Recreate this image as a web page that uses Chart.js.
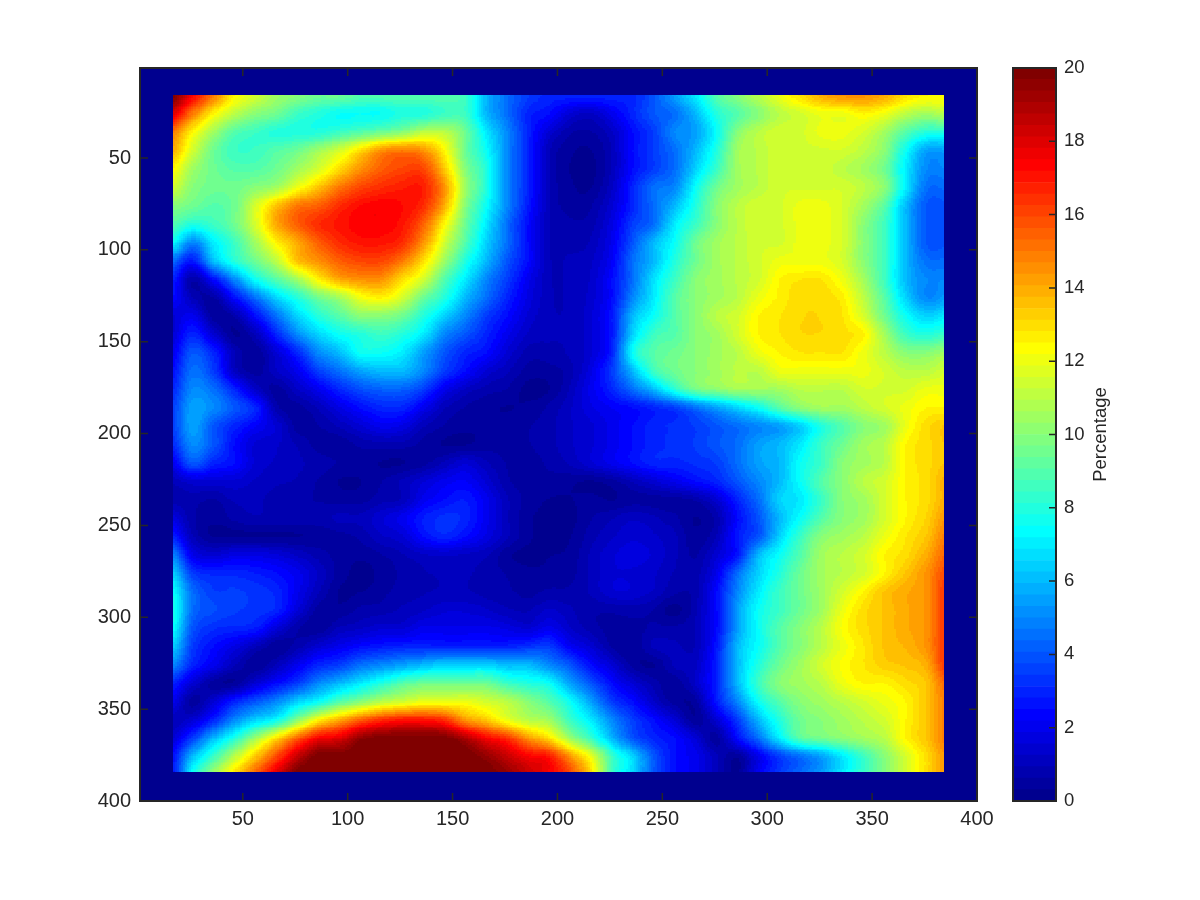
<!DOCTYPE html>
<html>
<head>
<meta charset="utf-8">
<title>Percentage map</title>
<script src="https://cdn.jsdelivr.net/npm/chart.js@4/dist/chart.umd.js"></script>
<style>
html, body { margin: 0; padding: 0; background: #fff; }
#wrap { position: relative; width: 1200px; height: 900px; overflow: hidden; }
canvas { position: absolute; top: 0; }
#heatCanvas { left: 0; }
#barCanvas { left: 1000px; }
</style>
</head>
<body>
<div id="wrap">
  <canvas id="heatCanvas" width="1000" height="900"></canvas>
  <canvas id="barCanvas" width="200" height="900"></canvas>
</div>
<script>
// cell centres, in axis units
const xCells = [16,26,36,46,56,66,76,86,96,106,116,126,136,146,156,166,176,186,196,206,216,226,236,246,256,266,276,286,296,306,316,326,336,346,356,366,376,386];
const yCells = [16,26,36,46,56,66,76,86,96,106,116,126,136,146,156,166,176,186,196,206,216,226,236,246,256,266,276,286,296,306,316,326,336,346,356,366,376,386];
const imageXStart = 17;
const imageYStart = 16;
const imageEnd = 384;

const xTicks = [50,100,150,200,250,300,350,400];
const yTicks = [50,100,150,200,250,300,350,400];
const barTicks = [0,2,4,6,8,10,12,14,16,18,20];
const barTitle = 'Percentage';

// percentage per cell
const cellRows = [
[20,17.5,15,12.5,11.5,10.5,10,9.5,9.5,9,9,9,9,9,8.5,6,4.5,3.5,3,3,3,3,3,4,5.5,7,9,10,11,12,13,14,14.5,14.5,14,13,12.5,12.5],
[18,15,12.5,11,10,9.5,8.5,8,7.5,7.5,7.5,8,8,8.5,8.5,6,4.5,3,2.5,1.5,1.2,2,3,4,4.5,6,8,9,10,11,11.5,12,12,12.5,12,11,10.5,11],
[15,12.5,10.5,9,8.5,8,8,8,8.5,9,9.5,10,11,11,9.5,7,5,3,1.5,0.7,0.6,1.2,2.5,3.5,5,5.5,7.5,10,11,11.5,11.5,12,12,11.5,10.5,9,8,8],
[14,11.5,9.5,8.5,8.5,9,9.5,10.5,11.5,13,14.5,15,14.5,12.5,9.5,7.5,5,3,1,0.4,0.3,1,2.5,3.5,4.5,6,8,10.5,11,11.5,11.5,11.5,11.5,11,10,7.5,5.5,5.5],
[12.5,10.5,9.5,9,9,9.5,10.5,11.5,13,14.5,15.5,16,16,13.5,10,8,5,3,1,0.3,0.2,1,2.5,3.5,4.5,6.5,8.5,10.5,11,11.5,11.5,11.5,11,10.5,9.5,7,5,5],
[11.5,10,9.5,9.5,10,10.5,12,13.5,15,16,16.5,16.8,16.8,14.5,10.5,8,5,3,1,0.4,0.3,1.2,3,4.5,5,7.5,9.5,10.5,11,11.5,11.5,11.5,11.5,11,10,7,4.5,4.5],
[10,9.5,9,9.5,11.5,13.5,15,15.5,16.5,17.2,17.4,17.2,16.5,14,10,7.5,5,2.8,1,0.5,0.6,1.5,3,4.5,6,8,10,11,11.5,11.5,12,12,11.5,10.5,9,6,4,4],
[9,8,8.5,9.5,11.5,14,15.5,16.5,17,17.4,17.4,17,15.5,12.5,9.5,7,4.5,2.5,1,0.7,0.8,1.8,3.5,4.5,7,8.5,10,11,11.5,11.5,12,12,11.5,10,8.5,6,4,4],
[7.5,5,7,8.5,10.5,12.5,14,15.5,16.5,17,17,16.5,14.5,11.5,9,6.5,4.5,2.5,1,0.8,1,2,4,6,7.5,9.5,10.5,11,11.5,11.5,12,12,11.5,10,8.5,6,4,4],
[4.5,2.8,6,8,9.5,11,13.5,14.5,15.5,16,16,15,13,10.5,8,6,4,2.5,1,1,1.2,2.2,4.5,6,8,9.5,10.5,11,11.5,12,12,12,11.5,10,8.5,6,4.5,4.5],
[3,0.7,2.5,5,7.5,9,10.5,12.5,14,14.5,14.5,13,11.5,9,7,5,3.5,2,1,1,1.3,2.5,4.5,6.8,8.5,10,10.5,11,11.5,12.5,12.8,12.8,12,10.5,8.5,6,5,5],
[2.5,1,0.6,2.5,4.5,6.5,8,9.5,10.5,12,12.5,11.5,9.5,8,6,4.5,3,1.8,1,1,1.4,2.5,5,7,9,10,10.5,11,12,12.6,13,13,12.6,11,9,6.5,5,5.5],
[1.5,2,0.5,0.7,2.5,4.5,6.5,8,9,10,10,9.5,8,6.5,5,3.5,2.5,1.5,1,1,1.5,2.8,6,7.5,9,10,11,11.5,12.5,12.8,13.1,13.1,12.8,11.5,9.5,7.5,6.5,7],
[1.5,3,1.5,0.3,1,3,5,6.5,7.5,8,8.5,8,7,5,4,3,2,1.2,1,1,1.5,2.8,6.5,8.5,9,10,10.5,11.5,12.5,12.8,13.1,13.1,12.9,12.5,10.5,8.5,8,8.5],
[2,4,3,1,0.4,1.5,3,5,6,7.5,7.5,7,5.5,4,3,2.5,1.5,0.8,0.8,1,1.5,3,7.5,9,9.5,10,10.5,11,12,12.5,12.8,12.8,12.8,12,11,10,10,10.5],
[2.5,4.5,3.5,1.2,0.5,1.2,2,3.5,4.5,5.5,6,6,5,3.5,2.5,1.5,1,0.5,0.5,0.8,1.8,3.5,6,8.5,9.5,10,10.5,11,11,12,12,12,12,12,11.5,11,11,11.5],
[3,5,4.5,3,1.3,0.5,1.2,2,3,3.8,4.2,4.2,3.5,2,1.2,0.8,0.6,0.2,0.3,1,2,3,4.5,6,8,9.5,10,10.5,10.5,10.5,11,11,11,11.5,11.5,11.5,12,12],
[3.5,5.5,5,4,3,0.8,0.5,1,1.8,2.5,3,3,2,1,0.6,0.4,0.3,0.4,0.7,1.2,1.8,2.2,2.5,3,3.5,4.5,5.5,6.5,7.5,9,10,10.5,10.5,11,11.5,12,12.5,12.5],
[3.5,5.5,4,3,2.2,1.5,0.5,0.6,1,1.5,2,1.8,1,0.6,0.4,0.4,0.5,0.6,0.8,1.2,1.5,2,2.5,3,3.2,3.5,4,4.5,5,5.5,6.5,8,9,10,10.5,12,13,13.5],
[3,5,4,2.5,1.5,1.3,0.9,0.5,0.4,0.7,0.8,0.8,0.5,0.3,0.3,0.5,0.5,0.6,0.8,1.2,1.5,2,2.5,3,3.2,3.5,4,4.5,5.5,6,7,8.5,9.5,10.5,11,12.5,13,13.5],
[2,4,3,2.5,1.5,1.2,1,0.8,0.6,0.5,0.3,0.3,0.5,1,1.5,1,0.6,0.5,0.7,1,1.5,2,2.5,3,3,3.2,3.5,4.5,5.5,6,7.5,8.5,10,10.5,11,12.5,13,13.5],
[1,1.5,1.5,1.5,1.2,1,0.9,0.6,0.3,0.3,0.6,1,1.5,2,2.2,1.5,0.7,0.5,0.5,0.4,0.3,0.5,1,1.5,2,2.5,3,4,5,6,7.5,9,10,11,11.5,12.5,13,14],
[0.8,0.8,0.6,1,1,0.8,0.7,0.6,0.5,0.5,0.8,1,2,2.5,2.8,2,1,0.5,0.3,0.3,0.4,0.3,0.5,0.5,0.5,0.7,1.5,3,4.5,6.5,7,8.5,10,10.5,11.5,12.5,13,14],
[1.8,0.7,0.4,0.7,0.9,0.8,0.8,0.8,1,1,1.5,2,2.8,3.2,3,2,1,0.4,0.2,0.2,0.6,0.9,1.2,1,0.7,0.3,0.8,2.5,4,6,7.5,9,10,10.5,11.5,12.5,13.2,14.5],
[3,1,0.3,0.3,0.3,0.3,0.3,0.4,0.5,0.7,1.2,1.5,2.5,3,2.5,1.8,1,0.4,0.2,0.3,0.8,1.2,1.5,1.3,1,0.4,1,2.8,4,6.5,8.5,10,10.5,11,12,12.8,13.5,15],
[5,2,1.5,1.8,1.8,1.6,1.2,0.8,0.5,0.4,0.6,0.9,1.2,1.3,1.2,1,0.4,0.2,0.3,0.4,1,1.5,1.7,1.5,1,0.6,1.5,2.8,6,7.5,9,10.5,11,11.5,12.5,13,14,15.5],
[6.5,3.5,3,3,2.8,2.5,2,1.2,0.5,0.2,0.4,0.7,0.9,1,1,0.8,0.6,0.4,0.4,0.5,1,1.5,1.5,1.3,0.9,0.8,2,4.5,6.5,8,9.5,10.5,11,11.5,12.5,13.5,14.5,16],
[7.5,4.5,3.5,3.5,3.3,3,2,1,0.3,0.3,0.5,0.8,0.9,1,1,0.8,0.7,0.5,0.7,0.7,1,1.5,1.5,1.2,0.7,0.8,2.5,5,7,8.5,9.5,10.5,11.5,12.5,13.5,14,14.5,16.5],
[8,4.5,3.8,3.5,3.3,3,1.6,0.5,0.4,0.7,0.8,1,1.2,1.5,1.5,1.3,1,0.9,1.3,1,0.7,0.7,0.8,0.6,0.2,0.9,2.5,5.5,7.5,8.5,9.5,10.5,12,13,13.5,14,14.5,16.5],
[7.5,4,3.2,3,2.8,1.6,0.7,0.4,1,1.2,1.5,1.5,2,2,2,2,1.8,1.5,2,1.3,0.8,0.5,0.5,0.7,0.7,1,2.5,5.5,7.5,9,10,11,12.3,13,13.5,14,14.5,16.5],
[6.5,3.5,2.5,1.8,1,0.4,0.8,1.5,2,2.5,2.8,3,3,3,3,3,3,3.3,3.5,2.2,1.5,0.6,0.4,1,1,1,2.8,6,7.5,9,10,11,12,12.8,13.5,13.8,14.5,16.5],
[5,3,2,1,0.4,1,2,3,3.5,4.5,5,5.5,6,6.5,6.5,6.5,6,6,5,4,2.5,1.5,0.5,0.3,1,1.2,3,6,8,9.5,10.5,11.5,12.3,12.8,13.3,13.5,14,16.5],
[3,1.5,0.5,0.4,1.5,2.5,3.5,5,6,7,8,9,9.5,9.5,9.5,9.5,8.5,8,7.5,5.5,4,2.5,1.5,0.8,0.4,1.3,3,6,8.5,10,10.5,11,12,12.5,12.5,13,13.5,15.5],
[2,0.5,1.5,3,4,5,6.5,7.5,9,10,11,11.5,12,12,12,11.5,11,10,9,7.5,5.5,3.5,2.5,1.3,0.5,0.5,2.8,5,7.5,9,10,10.5,11,11.5,12,12.5,13.5,15],
[1,1.5,3,5,6.5,7.5,10,12.5,14,15.5,16.5,17,17,16.5,14.5,13.5,12,11,10.5,8.5,7,5,3.5,2.5,1.5,0.4,1.5,3.5,6,8,9.5,10,10.5,11,11.5,12.5,13.5,15],
[1.5,3.5,6,8,10.5,13,15.5,17.5,18,19.5,20,20,20,20,19,17.5,16.5,14.5,13,10.5,8.5,6,4,3,2.5,1.5,0.5,2.5,4.5,7,9,9.5,10,10.5,11,12.5,13.5,15],
[2.5,6,8.5,11,13.5,16,18.5,20,20,20,20,20,20,20,20,19.5,18.5,17.5,17,14.5,12,8.5,6.5,4,2.5,2,1,0.4,2,3.5,4.5,5.5,7,8.5,10,11.5,13,14.5],
[2.5,7.5,10.5,13,15.5,18,20,20,20,20,20,20,20,20,20,20,19.5,18.5,17.5,16,13,8.5,6.5,4,2.5,2,1,0.3,2.2,3.5,4.5,5.5,7,8.5,10,11.5,13,14.5]
];

// jet colormap, 64 levels from 0 to 20
const levelCount = 64;
const levelMax = 20;

function jetLevel(i) {
    const t = (i + 1) / levelCount;
    const part = c => Math.round(255 * Math.min(1, Math.max(0, 1.5 - Math.abs(4 * t - c))));
    return [part(3), part(2), part(1)];
}
const jetTable = [];
for (let i = 0; i < levelCount; i++) jetTable.push(jetLevel(i));

function levelOf(v) {
    return Math.max(0, Math.min(levelCount - 1, Math.floor(v / levelMax * levelCount)));
}
function jetCss(i) {
    const c = jetTable[i];
    return 'rgb(' + c[0] + ',' + c[1] + ',' + c[2] + ')';
}

const axisColor = '#262626';
const textColor = '#262626';
const fontFamily = '"Liberation Sans", Arial, sans-serif';

// one point per cell
const cellPoints = [];
cellRows.forEach((row, j) => {
    row.forEach((v, i) => {
        cellPoints.push({ x: xCells[i], y: yCells[j], v: v });
    });
});

function catmull(a, b, c, d, t) {
    return b + 0.5 * t * (c - a + t * (2 * a - 5 * b + 4 * c - d + t * (3 * (b - c) + d - a)));
}
function cellAt(j, i) {
    const row = cellRows[Math.max(0, Math.min(cellRows.length - 1, j))];
    return row[Math.max(0, Math.min(row.length - 1, i))];
}
// value between the read cells, display only (like shading interp), the data stays as read
function shadeValue(xv, yv) {
    const fx = (xv - xCells[0]) / (xCells[1] - xCells[0]);
    const fy = (yv - yCells[0]) / (yCells[1] - yCells[0]);
    const i = Math.floor(fx), j = Math.floor(fy);
    const tx = fx - i, ty = fy - j;
    const col = [];
    for (let r = -1; r <= 2; r++) {
        col.push(catmull(cellAt(j + r, i - 1), cellAt(j + r, i), cellAt(j + r, i + 1), cellAt(j + r, i + 2), tx));
    }
    return catmull(col[0], col[1], col[2], col[3], ty);
}

// pixel box of the image inside the axes
function imageBox(chart) {
    const xs = chart.scales.x, ys = chart.scales.y;
    const left = Math.floor(xs.getPixelForValue(imageXStart));
    const top = Math.floor(ys.getPixelForValue(imageYStart));
    return {
        left, top,
        w: Math.ceil(xs.getPixelForValue(imageEnd)) - left,
        h: Math.ceil(ys.getPixelForValue(imageEnd)) - top
    };
}

// image area: background, cell clip and smooth shading
const imagePlugin = {
    id: 'imagePlugin',
    beforeDatasetsDraw(chart) {
        const a = chart.chartArea;
        chart.ctx.fillStyle = jetCss(0);
        chart.ctx.fillRect(a.left, a.top, a.width, a.height);
    },
    beforeDatasetDraw(chart) {
        const ctx = chart.ctx, b = imageBox(chart);
        ctx.save();
        ctx.beginPath();
        ctx.rect(b.left, b.top, b.w, b.h);
        ctx.clip();
    },
    afterDatasetDraw(chart) {
        const ctx = chart.ctx, xs = chart.scales.x, ys = chart.scales.y;
        ctx.restore();
        const b = imageBox(chart);
        const img = ctx.createImageData(b.w, b.h);
        for (let py = 0; py < b.h; py++) {
            const yv = Math.round(ys.getValueForPixel(b.top + py + 0.5));
            for (let px = 0; px < b.w; px++) {
                const xv = Math.round(xs.getValueForPixel(b.left + px + 0.5));
                const c = jetTable[levelOf(shadeValue(xv, yv))];
                const k = (py * b.w + px) * 4;
                img.data[k] = c[0];
                img.data[k + 1] = c[1];
                img.data[k + 2] = c[2];
                img.data[k + 3] = 255;
            }
        }
        ctx.putImageData(img, b.left, b.top);
    },
    afterDraw(chart) {
        const ctx = chart.ctx, a = chart.chartArea;
        const xs = chart.scales.x, ys = chart.scales.y;
        ctx.save();
        ctx.strokeStyle = axisColor;
        ctx.lineWidth = 1.5;
        ctx.beginPath();
        xTicks.forEach(v => {
            const p = xs.getPixelForValue(v);
            ctx.moveTo(p, a.bottom); ctx.lineTo(p, a.bottom - 8);
            ctx.moveTo(p, a.top); ctx.lineTo(p, a.top + 8);
        });
        yTicks.forEach(v => {
            const p = ys.getPixelForValue(v);
            ctx.moveTo(a.left, p); ctx.lineTo(a.left + 8, p);
            ctx.moveTo(a.right, p); ctx.lineTo(a.right - 8, p);
        });
        ctx.stroke();
        ctx.lineWidth = 2;
        ctx.strokeRect(a.left, a.top, a.width, a.height);
        ctx.restore();
    }
};

new Chart(document.getElementById('heatCanvas'), {
    type: 'scatter',
    data: {
        datasets: [{
            label: 'Percentage',
            data: cellPoints,
            pointStyle: 'rect',
            pointRadius: 15,
            pointBorderWidth: 0,
            pointBackgroundColor: ctx => jetCss(levelOf(ctx.raw.v))
        }]
    },
    options: {
        responsive: false,
        animation: false,
        events: [],
        layout: { padding: { top: 68, right: 23, left: 0, bottom: 0 } },
        plugins: { legend: { display: false }, tooltip: { enabled: false } },
        scales: {
            x: {
                type: 'linear', min: 1, max: 400,
                grid: { display: false, drawTicks: false }, border: { display: false },
                afterBuildTicks: s => { s.ticks = xTicks.map(v => ({ value: v })); },
                afterFit: s => { s.height = 99; },
                ticks: { font: { family: fontFamily, size: 20 }, color: textColor, padding: 6, maxRotation: 0, autoSkip: false }
            },
            y: {
                type: 'linear', min: 1, max: 400, reverse: true,
                grid: { display: false, drawTicks: false }, border: { display: false },
                afterBuildTicks: s => { s.ticks = yTicks.map(v => ({ value: v })); },
                afterFit: s => { s.width = 140; },
                ticks: { font: { family: fontFamily, size: 20 }, color: textColor, padding: 9, autoSkip: false }
            }
        }
    },
    plugins: [imagePlugin]
});

// colorbar: one stacked bar per colormap level
const barSets = jetTable.map((c, i) => ({
    data: [levelMax / levelCount],
    backgroundColor: jetCss(i),
    borderWidth: 0,
    barPercentage: 1,
    categoryPercentage: 1
}));

const barFramePlugin = {
    id: 'barFramePlugin',
    afterDraw(chart) {
        const ctx = chart.ctx, a = chart.chartArea, ys = chart.scales.y;
        ctx.save();
        ctx.strokeStyle = axisColor;
        ctx.lineWidth = 1.5;
        ctx.beginPath();
        barTicks.forEach(v => {
            const p = ys.getPixelForValue(v);
            ctx.moveTo(a.right, p); ctx.lineTo(a.right - 7, p);
        });
        ctx.stroke();
        ctx.lineWidth = 2;
        ctx.strokeRect(a.left, a.top, a.width, a.height);
        ctx.fillStyle = textColor;
        ctx.font = '18.5px ' + fontFamily;
        ctx.textAlign = 'center';
        ctx.textBaseline = 'middle';
        ctx.translate(a.right + 45, (a.top + a.bottom) / 2);
        ctx.rotate(-Math.PI / 2);
        ctx.fillText(barTitle, 0, 0);
        ctx.restore();
    }
};

new Chart(document.getElementById('barCanvas'), {
    type: 'bar',
    data: { labels: [''], datasets: barSets },
    options: {
        responsive: false,
        animation: false,
        events: [],
        layout: { padding: { top: 68, left: 13, right: 0, bottom: 99 } },
        plugins: { legend: { display: false }, tooltip: { enabled: false } },
        scales: {
            x: { stacked: true, display: false },
            y: {
                stacked: true, position: 'right', min: 0, max: 20,
                grid: { display: false, drawTicks: false }, border: { display: false },
                afterBuildTicks: s => { s.ticks = barTicks.map(v => ({ value: v })); },
                afterFit: s => { s.width = 144; },
                ticks: { font: { family: fontFamily, size: 18.5 }, color: textColor, padding: 8, autoSkip: false }
            }
        }
    },
    plugins: [barFramePlugin]
});
</script>
</body>
</html>
